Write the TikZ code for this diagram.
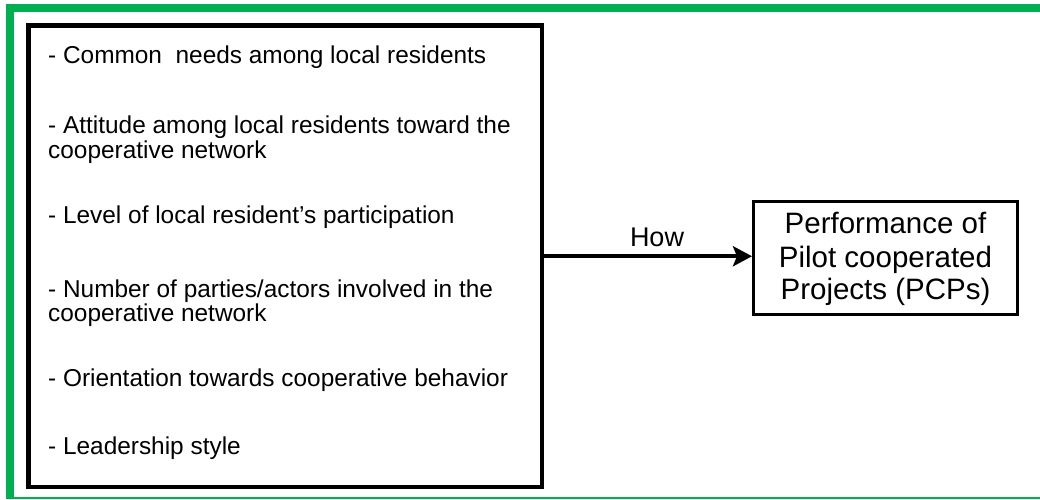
\documentclass[tikz,border=0pt]{standalone}
\usepackage{fontspec}
\setmainfont{Liberation Sans}
\usetikzlibrary{arrows.meta}
\definecolor{frameGreen}{RGB}{0,176,80}
\tikzset{
  itemtext/.style={anchor=base west, inner sep=0pt, font=\fontsize{24.4}{25}\selectfont},
  factorbox/.style={draw=black, line width=4.5pt, minimum width=513.5pt, minimum height=461.5pt, inner sep=0pt},
  resultbox/.style={draw=black, line width=3pt, minimum width=264pt, minimum height=113pt, inner sep=0pt},
  resulttext/.style={anchor=base, inner sep=0pt, font=\fontsize{29.5}{32}\selectfont},
  flow/.style={line width=4pt, -{Stealth[length=19pt,width=20pt,inset=4pt]}}
}
\begin{document}
\begin{tikzpicture}[x=1pt,y=-1pt]
  \useasboundingbox (0,0) rectangle (1040,499);
  % outer green frame: heavy top and left sides, light bottom edge
  \draw[frameGreen, line width=8pt] (1040,8) -- (10,8) -- (10,499);
  \draw[frameGreen, line width=2.2pt] (10,498) -- (1040,498);

  % list of factors
  \node[factorbox] (factors) at (285.25,256.25) {};
  \node[itemtext] (f1)  at (48,63)  {- Common\ \ needs among local residents};
  \node[itemtext] (f2a) at (48,133) {- Attitude among local residents toward the};
  \node[itemtext] (f2b) at (48,158) {cooperative network};
  \node[itemtext] (f3)  at (48,223) {- Level of local resident’s participation};
  \node[itemtext] (f4a) at (48,297) {- Number of parties/actors involved in the};
  \node[itemtext] (f4b) at (48,321) {cooperative network};
  \node[itemtext] (f5)  at (48,386) {- Orientation towards cooperative behavior};
  \node[itemtext] (f6)  at (48,454) {- Leadership style};

  % outcome
  \node[resultbox] (result) at (885.5,257.5) {};
  \node[resulttext] (r1) at (885.5,233) {Performance of};
  \node[resulttext] (r2) at (885.5,267) {Pilot cooperated};
  \node[resulttext] (r3) at (885.5,299) {Projects (PCPs)};

  % link
  \draw[flow] (factors.east) -- (factors.east -| result.west);
  \node[anchor=base, inner sep=0pt, font=\fontsize{27}{28}\selectfont] (how) at (657,246) {How};
\end{tikzpicture}
\end{document}
